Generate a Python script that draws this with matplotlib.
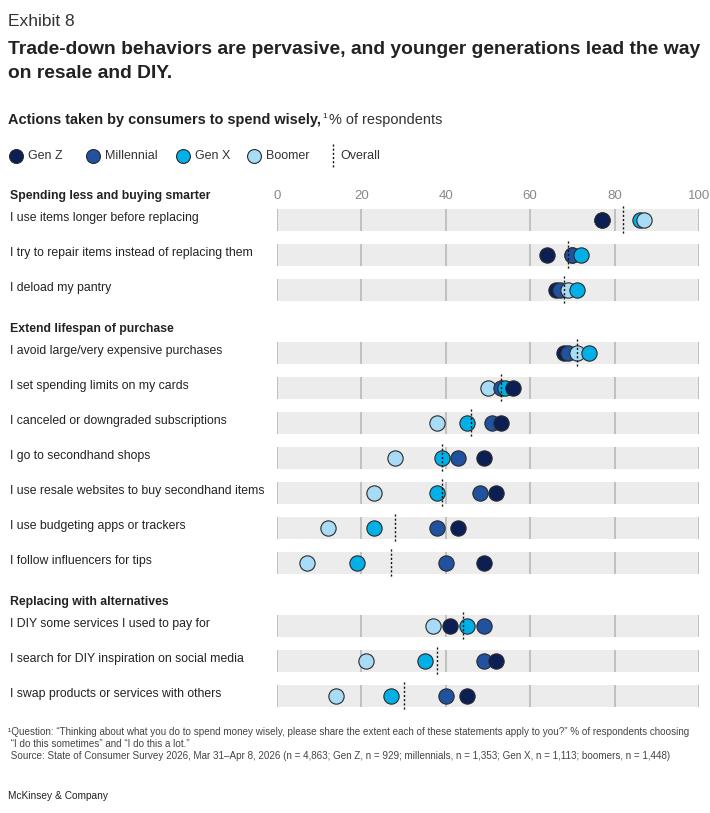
import numpy as np
import matplotlib
matplotlib.use("Agg")
import matplotlib.pyplot as plt
from matplotlib.lines import Line2D
from matplotlib.transforms import blended_transform_factory

plt.rcParams['font.family'] = ['Liberation Sans', 'DejaVu Sans']

# ---- data -------------------------------------------------------------
groups = ["Spending less and buying smarter",
          "Extend lifespan of purchase",
          "Replacing with alternatives"]
group_sizes = [3, 7, 3]

actions = [
    "I use items longer before replacing",
    "I try to repair items instead of replacing them",
    "I deload my pantry",
    "I avoid large/very expensive purchases",
    "I set spending limits on my cards",
    "I canceled or downgraded subscriptions",
    "I go to secondhand shops",
    "I use resale websites to buy secondhand items",
    "I use budgeting apps or trackers",
    "I follow influencers for tips",
    "I DIY some services I used to pay for",
    "I search for DIY inspiration on social media",
    "I swap products or services with others",
]

gen_z      = [77, 64, 66, 68, 56, 53, 49, 52, 43, 49, 41, 52, 45]
millennial = [77, 70, 67, 69, 53, 51, 43, 48, 38, 40, 49, 49, 40]
gen_x      = [86, 72, 71, 74, 54, 45, 39, 38, 23, 19, 45, 35, 27]
boomer     = [87, 70, 69, 71, 50, 38, 28, 23, 12, 7, 37, 21, 14]
overall    = [82, 69, 68, 71, 53, 46, 39, 39, 28, 27, 44, 38, 30]

series_names = ["Gen Z", "Millennial", "Gen X", "Boomer"]
series_colors = ["#0c1f55", "#2152a0", "#00b0e6", "#a8dcf6"]
x_ticks = [0, 20, 40, 60, 80, 100]

# ---- layout (pixel-based y) ------------------------------------------
W, H = 710, 813
fig = plt.figure(figsize=(W / 100, H / 100), dpi=100)
ax = fig.add_axes([277 / W, 0, (699 - 277) / W, 1])
ax.set_xlim(0, 100)
ax.set_ylim(H, 0)
ax.axis("off")

row_y = []
header_y = []
i = 0
for g, n in enumerate(group_sizes):
    header_y.append(220 + 35 * i + 28 * g - 24)
    for k in range(n):
        row_y.append(220 + 35 * i + 28 * g)
        i += 1
row_y = np.array(row_y)

lab = blended_transform_factory(fig.transFigure, ax.transData)
txt = "#222222"

# background bars and grid
ax.barh(row_y, 100, left=0, height=22, color="#ececec", zorder=1)
for xt in x_ticks:
    for y in row_y:
        ax.vlines(xt, y - 11, y + 11, color="#b4b4b4", lw=1.1, zorder=2)
    ax.text(xt, header_y[0], str(xt), ha="center", va="center",
            fontsize=9.5, color="#888888")

# markers, rightmost on top (ties: younger generation on top)
all_vals = [gen_z, millennial, gen_x, boomer]
for s, (vals, col) in enumerate(zip(all_vals, series_colors)):
    for r, v in enumerate(vals):
        ax.plot(v, row_y[r], "o", ms=11, mfc=col, mec="#2a2a2a", mew=0.8,
                zorder=3 + v / 100 + (4 - s) * 0.001)
ax.vlines(overall, row_y - 14, row_y + 14, color="#111111", lw=1.0,
          linestyles=(0, (1.5, 1.5)), zorder=6)

# left labels
for gname, gy in zip(groups, header_y):
    ax.text(10 / W, gy, gname, transform=lab, ha="left", va="center",
            fontsize=8.8, fontweight="bold", color=txt)
for a, y in zip(actions, row_y):
    ax.text(10 / W, y - 2, a, transform=lab, ha="left", va="center",
            fontsize=8.8, color=txt)

# titles
fig.text(8 / W, 1 - 21 / H, "Exhibit 8", fontsize=12.5, color="#333333",
         va="center", ha="left")
fig.text(8 / W, 1 - 49 / H, "Trade-down behaviors are pervasive, and younger generations lead the way",
         fontsize=13.9, fontweight="bold", color=txt, va="center", ha="left")
fig.text(8 / W, 1 - 74 / H, "on resale and DIY.",
         fontsize=13.9, fontweight="bold", color=txt, va="center", ha="left")
t1 = fig.text(8 / W, 1 - 120 / H, "Actions taken by consumers to spend wisely,",
              fontsize=10.45, fontweight="bold", color=txt, va="center", ha="left")
fig.canvas.draw()
bb = t1.get_window_extent()
t2 = fig.text(bb.x1 / W + 1 / W, 1 - 116 / H, "1", fontsize=6, color=txt,
              va="center", ha="left")
fig.canvas.draw()
bb2 = t2.get_window_extent()
fig.text(bb2.x1 / W + 2 / W, 1 - 120 / H, "% of respondents",
         fontsize=10.45, color="#333333", va="center", ha="left")

# legend
leg_x = [16, 93, 183, 254]
for lx, name, col in zip(leg_x, series_names, series_colors):
    fig.add_artist(Line2D([lx / W], [1 - 156 / H], marker="o", ms=10,
                          mfc=col, mec="#2a2a2a", mew=0.8, ls="none"))
    fig.text((lx + 12) / W, 1 - 156 / H, name, fontsize=9, color="#333333",
             va="center", ha="left")
fig.add_artist(Line2D([333 / W, 333 / W], [1 - 144 / H, 1 - 168 / H],
                      color="#111111", lw=1.0, ls=(0, (1.5, 1.5))))
fig.text(340 / W, 1 - 156 / H, "Overall", fontsize=9, color="#333333",
         va="center", ha="left")

# footnotes
foot = ("\u00b9Question: \u201cThinking about what you do to spend money wisely, please share the extent each of these statements apply to you?\u201d % of respondents choosing\n"
        " \u201cI do this sometimes\u201d and \u201cI do this a lot.\u201d\n"
        " Source: State of Consumer Survey 2026, Mar 31\u2013Apr 8, 2026 (n = 4,863; Gen Z, n = 929; millennials, n = 1,353; Gen X, n = 1,113; boomers, n = 1,448)")
fig.text(8 / W, 1 - 727 / H, foot, fontsize=7.1, color="#444444",
         va="top", ha="left", linespacing=1.25)
fig.text(8 / W, 1 - 796 / H, "McKinsey & Company", fontsize=7.3, color="#222222",
         va="center", ha="left")

fig.savefig("out.png", dpi=100)
